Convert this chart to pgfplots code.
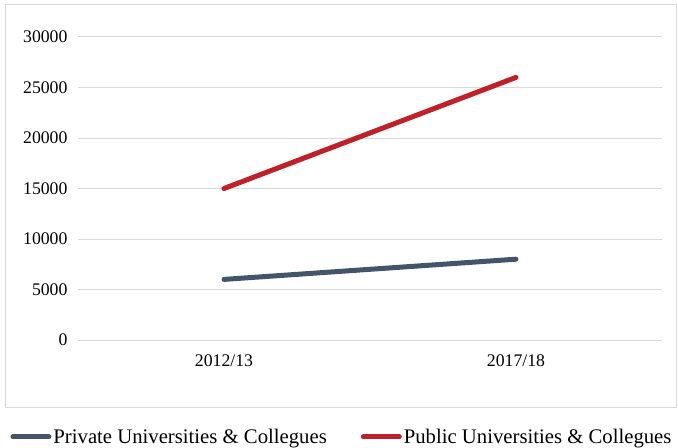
\documentclass[border=0pt]{standalone}
\usepackage{pgfplots}
\pgfplotsset{compat=1.18}
\usepackage{fontspec}
\setmainfont{Liberation Serif}
\definecolor{privc}{RGB}{68,84,106}
\definecolor{pubc}{RGB}{192,32,40}
\definecolor{gridc}{RGB}{217,217,217}
\begin{document}
\begin{tikzpicture}
\useasboundingbox (-78bp,-108bp) rectangle (600bp,340bp);
\draw[gridc, line width=1bp] (-72bp,335bp) rectangle (598bp,-67bp);
\begin{axis}[
  scale only axis,
  width=584bp, height=303bp,
  at={(0,0)}, anchor=south west,
  xmin=-0.5, xmax=1.5,
  ymin=0, ymax=30000,
  xtick={0,1}, xticklabels={2012/13,2017/18},
  ytick={0,5000,10000,15000,20000,25000,30000},
  scaled y ticks=false,
  ymajorgrids,
  grid style={gridc, line width=1bp},
  axis line style={draw=none},
  major tick length=0pt,
  /pgf/number format/assume math mode=true,
  /pgf/number format/1000 sep={},
  tick label style={font=\fontsize{17.8}{20}\selectfont},
  yticklabel style={xshift=-7bp},
  xticklabel style={yshift=-11bp},
  legend columns=2,
  legend style={at={(0.452,-0.320)}, anchor=center, draw=none, fill=none,
    font=\fontsize{20.8}{24}\selectfont, inner sep=0pt,
    /tikz/every even column/.append style={column sep=32bp}},
  legend image code/.code={\draw[#1, line width=5bp, line cap=round] (0bp,0bp) -- (36bp,0bp);},
]
\addplot[privc, line width=5bp, line cap=round] coordinates {(0,6000) (1,8000)};
\addlegendentry{Private Universities \& Collegues}
\addplot[pubc, line width=5bp, line cap=round] coordinates {(0,15000) (1,26000)};
\addlegendentry{Public Universities \& Collegues}
\end{axis}
\end{tikzpicture}
\end{document}
